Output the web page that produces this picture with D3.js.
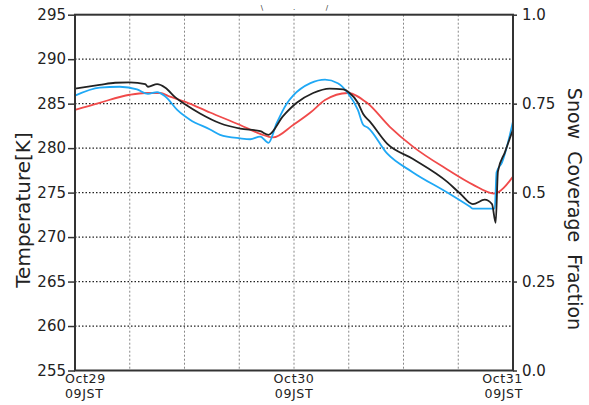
<!DOCTYPE html>
<html>
<head>
<meta charset="utf-8">
<script src="https://cdn.jsdelivr.net/npm/d3@7"></script>
<style>
body { margin: 0; background: #fff; }
text { font-family: "DejaVu Sans", sans-serif; fill: #222; }
</style>
</head>
<body>
<svg id="chart" width="589" height="405"></svg>
<script>
// hours after Oct29 09JST
var blackHours = [0, 2.7, 4.4, 6.0, 7.7, 8.0, 9.0, 9.9, 11.0, 12.1, 13.7, 15.9, 18.1, 20.3, 21.2, 22.8, 24.3, 26.1, 27.9, 29.4, 30.1, 31.0, 31.6, 32.3, 34.2, 37.0, 40.8, 42.2, 43.6, 44.9, 45.7, 46.1, 46.35, 47.1, 48];
var blackTemp  = [286.7, 287.1, 287.35, 287.4, 287.2, 286.9, 287.2, 286.8, 285.7, 284.9, 283.9, 282.8, 282.2, 281.9, 281.5, 283.6, 285.1, 286.2, 286.7, 286.6, 286.2, 285.1, 283.8, 283.0, 280.5, 278.8, 276.2, 274.9, 273.7, 274.2, 273.7, 271.6, 277.4, 279.5, 282.1];

var blueHours = [0, 2.7, 4.9, 6.8, 8.0, 9.0, 9.9, 11.2, 12.6, 14.8, 15.9, 18.1, 19.2, 20.3, 21.2, 22.1, 23.2, 23.9, 25.8, 27.4, 28.8, 29.9, 31.0, 31.6, 32.1, 34.2, 37.0, 40.8, 43.3, 43.6, 46.0, 46.2, 46.8, 48];
var blueTemp  = [285.9, 286.8, 286.9, 286.6, 286.1, 286.3, 285.8, 284.3, 283.2, 282.1, 281.5, 281.1, 281.0, 281.3, 280.6, 282.8, 285.0, 285.9, 287.3, 287.7, 287.3, 286.2, 284.3, 282.6, 282.3, 279.4, 277.3, 275.0, 273.4, 273.2, 273.2, 277.3, 278.4, 283.0];

var redHours = [0, 2.7, 6.0, 7.7, 9.3, 10.4, 12.1, 14.8, 18.1, 20.3, 21.7, 23.9, 25.8, 27.4, 29.9, 32.0, 34.5, 37.0, 40.8, 43.6, 45.9, 48];
var redTemp  = [284.3, 285.1, 286.0, 286.2, 286.2, 285.8, 285.2, 284.0, 282.6, 281.6, 281.2, 282.6, 284.0, 285.4, 286.2, 285.1, 282.4, 280.2, 277.6, 275.9, 274.9, 276.8];

var tempTicks  = [255, 260, 265, 270, 275, 280, 285, 290, 295];
var snowTicks  = [0, 0.25, 0.5, 0.75, 1.0];
var snowLabels = ["0.0", "0.25", "0.5", "0.75", "1.0"];
var dayHours   = [0, 24, 48];
var dayLabels  = [["Oct29", "09JST"], ["Oct30", "09JST"], ["Oct31", "09JST"]];
var gridHours  = [6, 12, 18, 24, 30, 36, 42];

var svg = d3.select('#chart');
var pLeft = 75, pRight = 513, pTop = 14.7, pBottom = 370.5;

var x = d3.scaleLinear().domain([0, 48]).range([pLeft, pRight]);
var y = d3.scaleLinear().domain([255, 295]).range([pBottom, pTop]);
var ySnow = d3.scaleLinear().domain([0, 1]).range([pBottom, pTop]);

// grid
svg.append('g').selectAll('line').data(gridHours).enter().append('line')
	.attr('x1', x).attr('x2', x).attr('y1', pTop).attr('y2', pBottom)
	.attr('stroke', '#888').attr('stroke-width', 1).attr('stroke-dasharray', '2,2');
svg.append('g').selectAll('line').data(tempTicks.slice(1, -1)).enter().append('line')
	.attr('x1', pLeft).attr('x2', pRight).attr('y1', y).attr('y2', y)
	.attr('stroke', '#222').attr('stroke-width', 1.2).attr('stroke-dasharray', '1.5,2');

// lines
function drawLine(hours, temps, color){
	var pts = hours.map(function(h, i){ return [h, temps[i]]; });
	svg.append('path')
		.datum(pts)
		.attr('fill', 'none')
		.attr('stroke', color)
		.attr('stroke-width', 1.8)
		.attr('stroke-linejoin', 'round')
		.attr('d', d3.line().curve(d3.curveMonotoneX)
			.x(function(d){ return x(d[0]); })
			.y(function(d){ return y(d[1]); }));
}
drawLine(redHours, redTemp, '#f04a4a');
drawLine(blueHours, blueTemp, '#1fa8f5');
drawLine(blackHours, blackTemp, '#222');

// left axis
var yAxis = svg.append('g').attr('transform', 'translate(' + pLeft + ',0)')
	.call(d3.axisLeft(y).tickValues(tempTicks).tickSize(7).tickPadding(2));
yAxis.select('.domain').remove();
yAxis.selectAll('line').attr('stroke', '#333').attr('stroke-width', 1.5);
yAxis.selectAll('text').style('font-size', '15px').style('font-family', '"DejaVu Sans", sans-serif').attr('fill', '#222');

// right axis
var rAxis = svg.append('g').attr('transform', 'translate(' + pRight + ',0)')
	.call(d3.axisRight(ySnow).tickValues(snowTicks).tickSize(4).tickPadding(5)
		.tickFormat(function(d, i){ return snowLabels[i]; }));
rAxis.select('.domain').remove();
rAxis.selectAll('line').attr('stroke', '#333').attr('stroke-width', 1.5);
rAxis.selectAll('text').style('font-size', '15px').style('font-family', '"DejaVu Sans", sans-serif').attr('fill', '#222');

// frame
svg.append('rect').attr('x', pLeft).attr('y', pTop).attr('width', pRight - pLeft).attr('height', pBottom - pTop)
	.attr('fill', 'none').attr('stroke', '#333').attr('stroke-width', 2);

// x labels, two lines each
function labelX(d, i){ return x(d) + (i === 0 ? -10 : i === 2 ? 10 : 0); }
function anchorX(d, i){ return i === 0 ? 'start' : i === 2 ? 'end' : 'middle'; }
[0, 1].forEach(function(row){
	svg.append('g').selectAll('text').data(dayHours).enter().append('text')
		.attr('x', labelX).attr('y', row === 0 ? 383 : 398)
		.attr('text-anchor', anchorX)
		.style('font-size', '12.6px')
		.style('letter-spacing', '0.6px')
		.text(function(d, i){ return dayLabels[i][row]; });
});

// axis titles
svg.append('text').attr('transform', 'translate(30,210) rotate(-90)')
	.attr('text-anchor', 'middle').style('font-size', '20px').text('Temperature[K]');
svg.append('text').attr('transform', 'translate(568,209) rotate(90)')
	.attr('text-anchor', 'middle').style('font-size', '19px')
	.style('white-space', 'pre').text('Snow  Coverage  Fraction');

// clipped title remnants at the top edge
svg.append('g').selectAll('text').data([[262, '\\'], [294, '.'], [327, '/']]).enter().append('text')
	.attr('x', function(d){ return d[0]; }).attr('y', 10)
	.attr('text-anchor', 'middle').style('font-size', '7px')
	.text(function(d){ return d[1]; });
</script>
</body>
</html>
